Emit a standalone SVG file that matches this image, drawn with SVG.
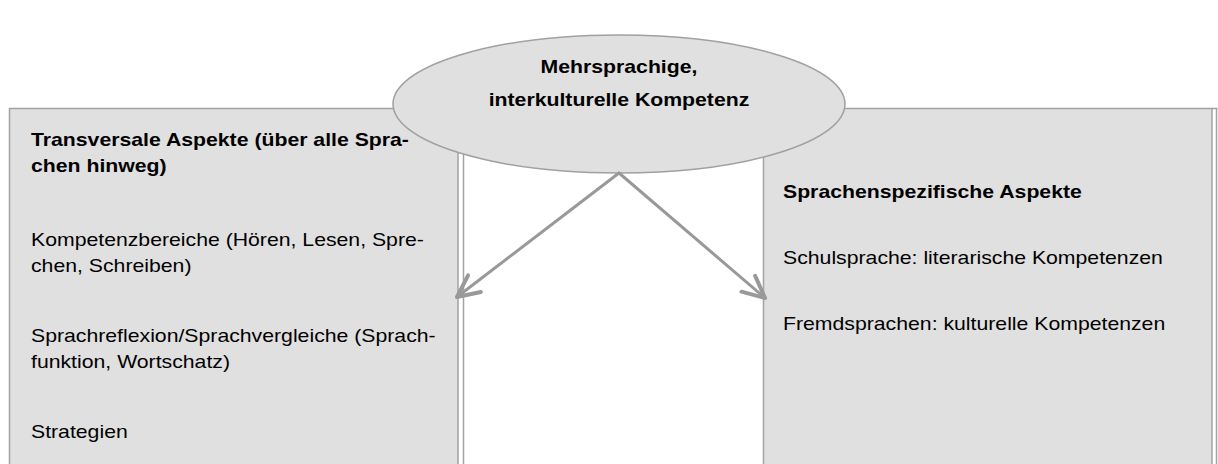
<svg xmlns="http://www.w3.org/2000/svg" width="1218" height="464" viewBox="0 0 1218 464">
<style>
.box{fill:#e0e0e0;stroke:#a3a3a3;stroke-width:1.5}
.t{font-family:"Liberation Sans",Arial,sans-serif;font-size:18px;fill:#000}
.b{font-weight:bold}
.arr{stroke:#999;stroke-width:3;fill:none;stroke-linecap:round}
</style>
<defs>
<marker id="ah" markerUnits="userSpaceOnUse" markerWidth="40" markerHeight="40" refX="0" refY="0" viewBox="-30 -20 40 40" orient="auto" overflow="visible">
<path d="M -22 -10.5 L 0 0 L -22 10.5" fill="none" stroke="#999" stroke-width="4" stroke-linecap="round" stroke-linejoin="round"/>
</marker>
</defs>
<rect width="1218" height="464" fill="#fff"/>
<g id="left">
<rect class="box" x="9.5" y="108.5" width="448.5" height="370"/>
<g transform="translate(31,0) scale(1.18,1)">
<text class="t b" x="0" y="146">Transversale Aspekte (über alle Spra-</text>
<text class="t b" x="0" y="172">chen hinweg)</text>
<text class="t" x="0" y="246">Kompetenzbereiche (Hören, Lesen, Spre-</text>
<text class="t" x="0" y="272">chen, Schreiben)</text>
<text class="t" x="0" y="342">Sprachreflexion/Sprachvergleiche (Sprach-</text>
<text class="t" x="0" y="368">funktion, Wortschatz)</text>
<text class="t" x="0" y="438">Strategien</text>
</g>
</g>
<g id="middle">
<line x1="463.5" y1="108" x2="463.5" y2="464" stroke="#a3a3a3" stroke-width="1.5"/>
</g>
<g id="right">
<rect class="box" x="763.5" y="108.5" width="448.5" height="370"/>
<line x1="1212" y1="108.5" x2="1217.5" y2="108.5" stroke="#a3a3a3" stroke-width="1.5"/>
<line x1="1216.5" y1="108" x2="1216.5" y2="464" stroke="#a3a3a3" stroke-width="1.5"/>
<line x1="458" y1="108.5" x2="763.5" y2="108.5" stroke="#a3a3a3" stroke-width="1.5"/>
<g transform="translate(783,0) scale(1.18,1)">
<text class="t b" x="0" y="198">Sprachenspezifische Aspekte</text>
<text class="t" x="0" y="264">Schulsprache: literarische Kompetenzen</text>
<text class="t" x="0" y="330">Fremdsprachen: kulturelle Kompetenzen</text>
</g>
</g>
<g id="center">
<ellipse cx="619" cy="104" rx="226" ry="69" fill="#e0e0e0" stroke="#a0a0a0" stroke-width="1.5"/>
<g transform="translate(619,0) scale(1.18,1)">
<text class="t b" x="0" y="73" text-anchor="middle">Mehrsprachige,</text>
<text class="t b" x="0" y="106" text-anchor="middle">interkulturelle Kompetenz</text>
</g>
</g>
<g id="connectors">
<line class="arr" x1="619" y1="173" x2="457" y2="297" marker-end="url(#ah)"/>
<line class="arr" x1="619" y1="173" x2="765" y2="298" marker-end="url(#ah)"/>
</g>
</svg>
